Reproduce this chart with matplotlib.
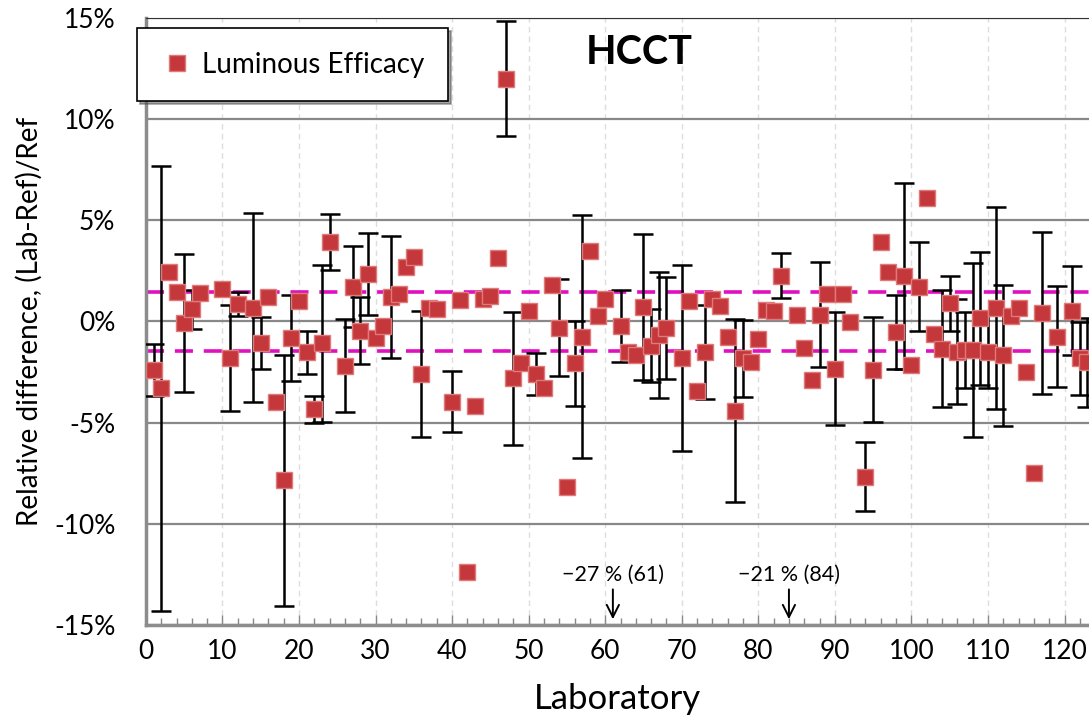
import numpy as np
import matplotlib
matplotlib.use("Agg")
import matplotlib.pyplot as plt
from matplotlib.ticker import FixedLocator, MultipleLocator

# lab number, relative difference (%) and expanded uncertainty (%), nan = no bar
labs = [1, 2, 3, 4, 5, 6, 7, 10, 11, 12, 14, 15, 16, 17, 18, 19, 20, 21, 22, 23,
        24, 26, 27, 28, 29, 30, 31, 32, 33, 34, 35, 36, 37, 38, 40, 41, 42, 43, 44, 45,
        46, 47, 48, 49, 50, 51, 52, 53, 54, 55, 56, 57, 58, 59, 60, 62, 63, 64, 65, 66,
        67, 68, 70, 71, 72, 73, 74, 75, 76, 77, 78, 79, 80, 81, 82, 83, 85, 86, 87, 88,
        89, 90, 91, 92, 94, 95, 96, 97, 98, 99, 100, 101, 102, 103, 104, 105, 106, 107, 108, 109,
        110, 111, 112, 113, 114, 115, 116, 117, 119, 121, 122, 123]
values = [-2.4, -3.3, 2.43, 1.44, -0.08, 0.6, 1.4, 1.6, -1.81, 0.86, 0.69, -1.07, 1.2, -3.99, -7.85, -0.8, 1.02, -1.52, -4.34, -1.08,
          3.91, -2.18, 1.72, -0.46, 2.35, -0.8, -0.21, 1.22, 1.36, 2.69, 3.17, -2.59, 0.66, 0.61, -3.96, 1.07, -12.38, -4.17, 1.11, 1.24,
          3.14, 12.0, -2.8, -2.06, 0.53, -2.6, -3.3, 1.82, -0.3, -8.2, -2.06, -0.76, 3.47, 0.25, 1.11, -0.22, -1.49, -1.65, 0.72, -1.19,
          -0.66, -0.32, -1.81, 1.02, -3.43, -1.52, 1.11, 0.78, -0.77, -4.4, -1.81, -1.98, -0.88, 0.58, 0.53, 2.25, 0.33, -1.32, -2.89, 0.33,
          1.36, -2.33, 1.36, -0.03, -7.66, -2.39, 3.91, 2.45, -0.52, 2.24, -2.14, 1.72, 6.11, -0.61, -1.35, 0.9, -1.49, -1.42, -1.41, 0.15,
          -1.49, 0.68, -1.68, 0.28, 0.66, -2.5, -7.47, 0.43, -0.76, 0.53, -1.82, -2.02]
errors = [1.3, 11.0, np.nan, np.nan, 3.4, 0.95, np.nan, np.nan, 2.6, 0.58, 4.65, 1.3, np.nan, np.nan, 6.2, 2.13, np.nan, 1.07, 0.67, 3.89,
          1.38, 2.28, 2.0, 1.65, 2.02, np.nan, np.nan, 3.0, np.nan, np.nan, np.nan, 3.1, np.nan, np.nan, 1.5, np.nan, np.nan, np.nan, np.nan, np.nan,
          np.nan, 2.83, 3.29, np.nan, np.nan, 1.02, np.nan, np.nan, 2.4, np.nan, 2.1, 6.0, np.nan, np.nan, np.nan, 1.8, np.nan, np.nan, 3.59, 1.8,
          3.1, 2.5, 4.6, np.nan, np.nan, 2.31, np.nan, np.nan, np.nan, 4.5, 1.9, np.nan, np.nan, np.nan, np.nan, 1.11, np.nan, np.nan, np.nan, 2.59,
          np.nan, 2.8, np.nan, np.nan, 1.7, 2.6, np.nan, np.nan, 1.85, 4.6, np.nan, 2.2, np.nan, np.nan, 2.89, 1.35, 2.6, 1.89, 4.29, 3.3,
          1.82, 5.0, 3.46, np.nan, np.nan, np.nan, np.nan, 4.0, 2.5, 2.2, 1.8, 2.2]

limit = 1.44                       # +/- band (magenta)
offscale = [(61, "\u221227 % (61)"), (84, "\u221221 % (84)")]
y_ticks = [-15, -10, -5, 0, 5, 10, 15]

plt.rcParams['font.family'] = ['Lato', 'DejaVu Sans']

fig = plt.figure(figsize=(10.89, 7.16), dpi=100)
ax = fig.add_axes([0.134, 0.127, 0.866, 0.848])

labs = np.array(labs)
values = np.array(values)
errors = np.array(errors)
has_err = ~np.isnan(errors)

ax.errorbar(labs[has_err], values[has_err], yerr=errors[has_err], fmt='none',
            ecolor='black', elinewidth=1.8, capsize=7, capthick=1.8, zorder=3)
ax.plot(labs, values, 's', color='#C4373A', markeredgecolor='#E07A7A',
        markeredgewidth=1.0, markersize=11, zorder=4, label='Luminous Efficacy')

for y in (limit, -limit):
    ax.axhline(y, color='#E010C0', lw=2.6, dashes=(5, 3), zorder=2)

ax.set_xlim(0, 123.2)
ax.set_ylim(-15, 15)

ax.yaxis.set_major_locator(FixedLocator(y_ticks))
ax.set_yticklabels([f"{t}%" for t in y_ticks])
ax.xaxis.set_major_locator(MultipleLocator(10))
ax.xaxis.set_minor_locator(MultipleLocator(2))
ax.tick_params(axis='x', which='both', direction='in', length=5, width=1, color='#888888',
               labelsize=19, pad=10)
ax.tick_params(axis='x', which='major', length=7)
ax.tick_params(axis='y', length=0, labelsize=19, pad=22)

ax.grid(axis='y', color='#888888', lw=1.6, zorder=0)
ax.grid(axis='x', color='#DDDDDD', lw=1.0, ls=(0, (4, 3)), zorder=0)
for side in ('left', 'bottom'):
    ax.spines[side].set_color('#8C8C8C')
    ax.spines[side].set_linewidth(2.5)
ax.spines['top'].set_color('#333333')
ax.spines['right'].set_visible(False)

ax.set_xlabel('Laboratory', fontsize=25, labelpad=14)
ax.set_ylabel('Relative difference, (Lab-Ref)/Ref', fontsize=20, labelpad=8)

ax.text(64.5, 13.3, 'HCCT', fontsize=28.5, fontweight='bold', ha='center', va='center')

# labs off the scale
for lab, txt in offscale:
    ax.text(lab, -12.5, txt, fontsize=15.5, ha='center', va='center')
    ax.annotate('', xy=(lab, -14.85), xytext=(lab, -13.1),
                arrowprops=dict(arrowstyle='->', lw=1.4, color='black', mutation_scale=22))

leg = ax.legend(loc='upper left', bbox_to_anchor=(-0.0095, 0.983), borderaxespad=0,
                fontsize=20, frameon=True, fancybox=False, shadow=True,
                handletextpad=0.3, borderpad=0.85, handlelength=1.2)
leg.get_frame().set_edgecolor('black')
leg.get_frame().set_linewidth(1.2)

fig.savefig('out.png', dpi=100)
